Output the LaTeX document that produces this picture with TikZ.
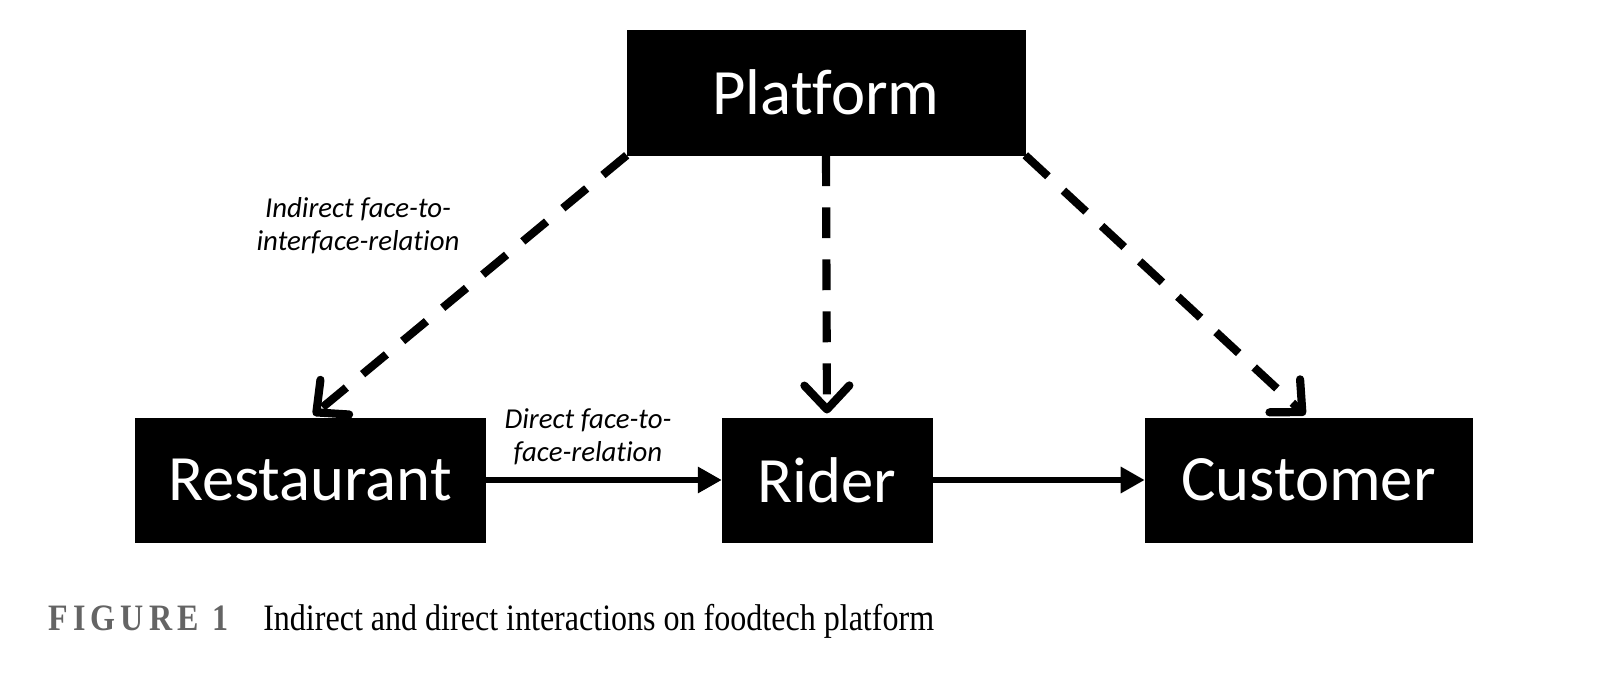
\documentclass[tikz,border=0pt]{standalone}
\usepackage{fontspec}
\setmainfont[Ligatures=NoCommon]{Carlito}
\newfontfamily\capfont[FakeStretch=0.86]{Liberation Serif}
\newfontfamily\capbold[FakeStretch=0.86,LetterSpace=14]{Liberation Serif Bold}
\usetikzlibrary{arrows.meta}
\definecolor{capgray}{RGB}{100,100,100}

\begin{document}
\begin{tikzpicture}[
        box/.style={draw, rectangle, fill=black, text=white, minimum height=3.1cm,
            font=\fontsize{46}{52}\selectfont, inner sep=0pt},
        dashedge/.style={line width=5.8pt, dash pattern=on 22pt off 15pt,
            -{Straight Barb[length=17pt, width=32pt, round]}, shorten >=3pt},
        solidedge/.style={line width=3.8pt, -{Triangle[length=17pt, width=18pt]}},
        rel/.style={font=\fontsize{20.5}{23.5}\selectfont\itshape, align=center}
    ]
        \useasboundingbox (0,0) rectangle (40,-17.3);
        \node [box, minimum width=9.95cm, minimum height=3.125cm] (plat) at (20.65,-2.3125) {Platform};
        \node [box, minimum width=8.75cm] (rest) at (7.75,-12) {Restaurant};
        \node [box, minimum width=5.25cm] (rider) at (20.675,-12) {Rider};
        \node [box, minimum width=8.175cm] (cust) at (32.71,-12) {Customer};
        \draw [dashedge] (plat.south west) -- (rest.north);
        \draw [dashedge] (plat.south) -- (rider.north);
        \draw [dashedge] (plat.south east) -- (cust.north);
        \draw [solidedge] (rest) -- (rider);
        \draw [solidedge] (rider) -- (cust);
        \node [rel] (lblind) at (8.95,-5.65) {Indirect face-to-\\interface-relation};
        \node [rel] (lbldir) at (14.7,-10.925) {Direct face-to-\\face-relation};
        % caption
        \node [anchor=base west, inner sep=0pt, text=capgray, font=\capbold\fontsize{26.5}{30}\selectfont] (fig) at (1.2,-15.75) {FIGURE 1};
        \node [anchor=base west, inner sep=0pt, font=\capfont\fontsize{26.5}{30}\selectfont] (cap) at (6.575,-15.75) {Indirect and direct interactions on foodtech platform};
\end{tikzpicture}
\end{document}
